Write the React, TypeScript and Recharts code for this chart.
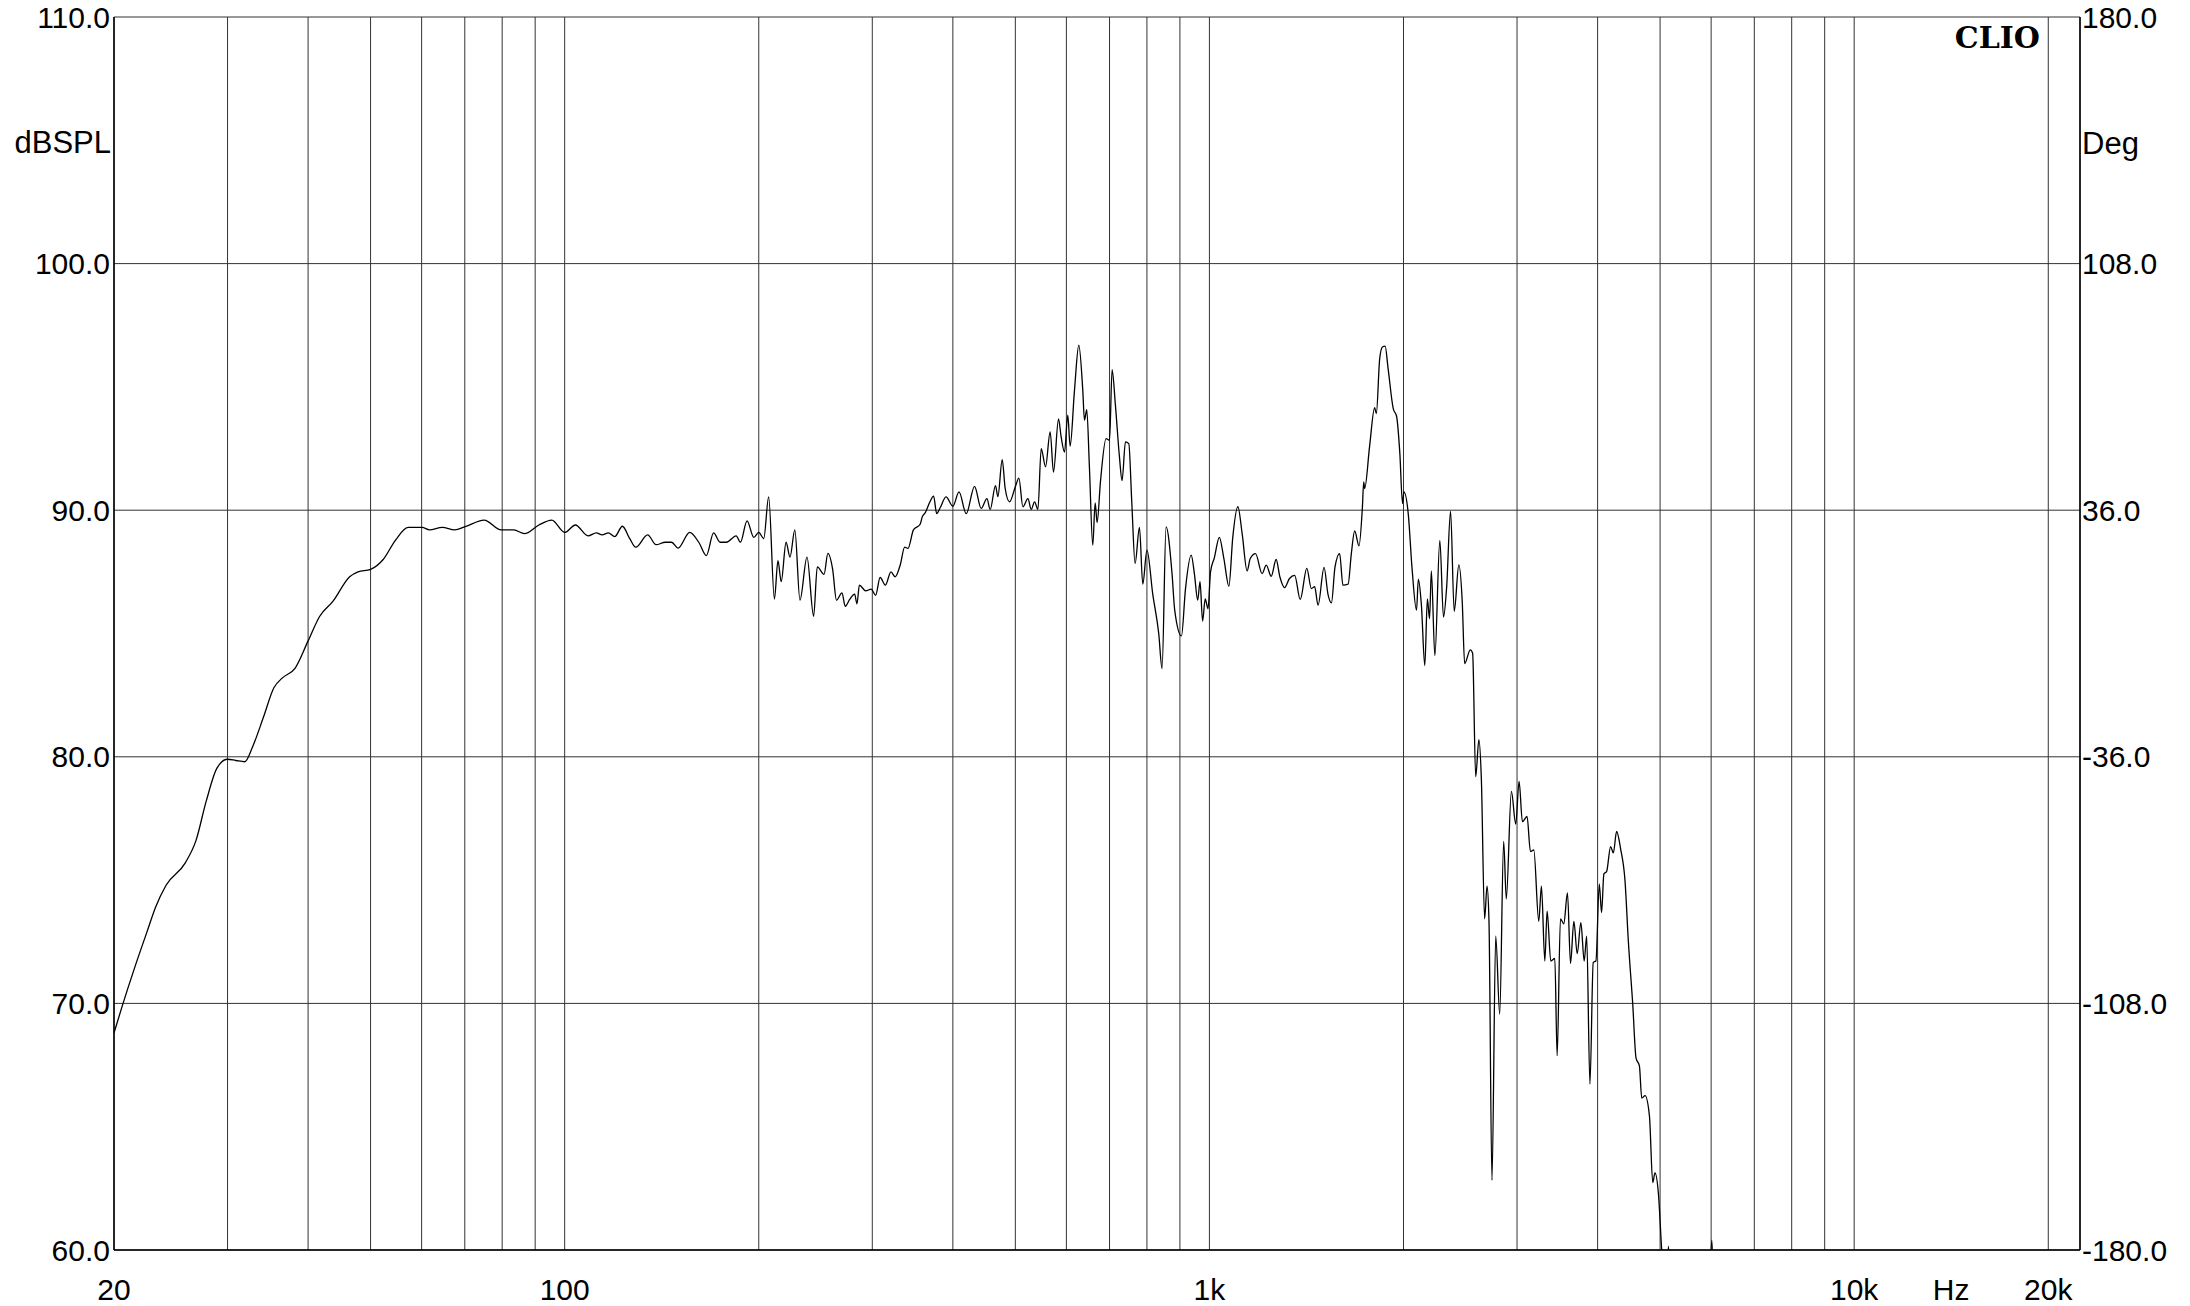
import React from "react";
import { LineChart, Line, XAxis, YAxis, CartesianGrid, Label } from "recharts";

// frequency response (Hz / dBSPL)
const FREQ_HZ = [
  20, 20.6, 21.5, 22.5, 23.2, 24.1, 25.8, 26.8, 27.8, 28.9, 30, 30.9, 31.9, 32.8, 34.1, 35.4, 36.5, 38.2,
  40, 41.7, 43.7, 46.4, 47.8, 50, 52.3, 54.7, 57.2, 60.1, 61.7, 64.6, 67.5, 70.1, 75, 79.7, 83.4, 86.6,
  91.2, 95.5, 100, 103.9, 108.7, 112, 114.3, 116.9, 119.6, 122.9, 126.1, 128.9, 134.5, 138.6, 143.2,
  146.5, 149.9, 156.3, 161.6, 165.9, 170.2, 174.2, 178.2, 184.5, 187.3, 191.8, 196.5, 200, 203.6,
  207.2, 211.5, 214.2, 216.7, 220.5, 223.6, 227.5, 231.7, 237.6, 243.3, 246.5, 252.5, 256, 260.4, 264,
  269.2, 272.4, 276.7, 281.7, 284, 286.5, 293, 298.9, 303.6, 308.5, 314.3, 320.7, 325.5, 331.4, 336.8,
  340.8, 347.5, 355.9, 358.6, 362.5, 368.6, 373.4, 377.6, 382.3, 390.4, 400, 408.9, 419.6, 432.2,
  442.6, 451.8, 457.1, 465.8, 469.8, 477.1, 482.2, 489.7, 500, 506.4, 513.7, 523, 529.2, 535.5, 542,
  548.4, 557, 566.2, 573, 583.4, 588.9, 596, 603, 608.1, 617.6, 627.2, 636.2, 640, 645.3, 651.4, 659.3,
  664.9, 669.6, 677.6, 691.4, 700, 706.4, 714.8, 725.2, 732, 740.9, 749.8, 757.8, 766.9, 778.9, 788.2,
  800, 816.8, 834.4, 844.4, 856.6, 875, 883.4, 905, 918, 937, 948, 959, 967, 976, 985, 995, 1004, 1018,
  1036, 1053, 1072, 1087, 1107, 1124, 1144, 1157, 1179, 1207, 1225, 1247, 1269, 1286, 1308, 1331, 1356,
  1383, 1416, 1439, 1456, 1474, 1506, 1527, 1546, 1566, 1592, 1611, 1641, 1660, 1680, 1706, 1727, 1735,
  1741, 1772, 1804, 1815, 1837, 1855, 1873, 1893, 1928, 1951, 1974, 1993, 2003, 2034, 2062, 2095, 2109,
  2132, 2158, 2178, 2195, 2209, 2237, 2277, 2307, 2333, 2366, 2397, 2437, 2467, 2488, 2539, 2560, 2588,
  2618, 2641, 2672, 2695, 2714, 2743, 2780, 2820, 2860, 2887, 2940, 2986, 3022, 3058, 3109, 3147, 3185,
  3242, 3273, 3313, 3340, 3384, 3433, 3462, 3503, 3545, 3592, 3631, 3675, 3719, 3768, 3813, 3847, 3892,
  3938, 3976, 4024, 4057, 4091, 4131, 4190, 4231, 4281, 4343, 4412, 4464, 4534, 4589, 4644, 4683, 4739,
  4813, 4871, 4910, 4969, 5029, 5100, 5151, 5200, 5950, 6015, 6060,
];

const SPL_DB = [
  68.8, 69.9, 71.4, 72.9, 73.9, 74.8, 75.7, 76.6, 78.2, 79.55, 79.9, 79.85, 79.8, 80.4, 81.6, 82.8, 83.2, 83.6,
  84.7, 85.7, 86.3, 87.3, 87.5, 87.6, 88.0, 88.8, 89.3, 89.3, 89.2, 89.3, 89.2, 89.33, 89.6, 89.2, 89.2, 89.05,
  89.4, 89.6, 89.1, 89.4, 88.96, 89.08, 89.0, 89.08, 88.93, 89.35, 88.86, 88.5, 89.0, 88.6, 88.7,
  88.7, 88.46, 89.1, 88.68, 88.16, 89.08, 88.7, 88.7, 88.96, 88.7, 89.57, 88.9, 89.1, 88.85,
  90.54, 86.4, 87.95, 87.1, 88.7, 88.1, 89.2, 86.35, 88.1, 85.7, 87.7, 87.4, 88.25, 87.6, 86.35,
  86.65, 86.1, 86.38, 86.6, 86.2, 86.96, 86.73, 86.8, 86.55, 87.27, 86.96, 87.5, 87.3, 87.77, 88.5,
  88.45, 89.2, 89.43, 89.73, 89.9, 90.34, 90.57, 89.86, 90.1, 90.54, 90.16, 90.74, 89.86, 90.97,
  90.07, 90.47, 90.03, 91.0, 90.55, 92.05, 90.88, 90.34, 90.95, 91.3, 90.14, 90.47, 90.03, 90.34, 90.03,
  92.5, 91.76, 93.18, 91.55, 93.7, 92.97, 92.36, 93.85, 92.6, 94.86, 96.69, 94.86, 93.65, 94.08, 91.76, 88.58,
  90.3, 89.5, 91.15, 92.9, 92.84, 95.7, 94.26, 92.16, 91.2, 92.77, 92.7, 90.34, 87.84, 89.3, 87.0,
  88.38, 86.6, 85.0, 83.58, 89.32, 87.43, 85.95, 84.9, 86.8, 88.18, 87.4, 86.35, 87.1, 85.5, 86.4, 86.0, 87.5, 88.08,
  88.9, 88.04, 86.92, 88.9, 90.14, 89.05, 87.54, 88.04, 88.24, 87.43, 87.77, 87.32, 88.0, 87.3, 86.86, 87.23, 87.36,
  86.38, 87.64, 86.82, 86.9, 86.15, 87.68, 86.6, 86.24, 87.7, 88.24, 86.96, 87.0, 88.24, 89.16, 88.55, 90.14, 91.15,
  90.88, 92.6, 94.16, 93.92, 96.15, 96.62, 96.65, 95.74, 94.12, 93.81, 92.3, 90.27, 90.74, 89.86, 87.64, 85.95, 87.2,
  86.15, 83.7, 86.4, 85.6, 87.54, 84.1, 88.78, 85.66, 86.87, 89.96, 85.9, 87.78, 86.26, 83.78, 84.34, 84.2, 79.19,
  80.7, 79.1, 73.43, 74.75, 73.33, 62.83, 72.73, 69.56, 76.57, 74.24, 78.6, 77.27, 79.0, 77.37, 77.58, 76.16, 76.22,
  73.33, 74.75, 71.72, 73.74, 71.72, 71.82, 67.88, 73.43, 73.23, 74.48, 71.62, 73.33, 72.02, 73.27, 71.72, 72.73, 66.73,
  71.66, 71.72, 74.85, 73.68, 75.25, 75.35, 76.36, 76.1, 76.97, 76.26, 74.95, 72.53, 70.0, 67.78, 67.47, 66.16, 66.26,
  65.45, 62.73, 63.13, 62.32, 60.0, 58.0, 60.15, 58.0, 58.0, 60.4, 58.0,
];

const GRID_FREQS = [
  20, 30, 40, 50, 60, 70, 80, 90, 100, 200, 300, 400, 500, 600, 700, 800, 900,
  1000, 2000, 3000, 4000, 5000, 6000, 7000, 8000, 9000, 10000, 20000,
];
const FREQ_LABELS: Record<number, string> = { 20: "20", 100: "100", 1000: "1k", 10000: "10k", 20000: "20k" };
const DB_TICKS = [60, 70, 80, 90, 100, 110];
const DB_MINOR = Array.from({ length: 51 }, (_, i) => 60 + i);
const DEG_TICKS = [-180, -108, -36, 36, 108, 180];

const data = FREQ_HZ.map((f, i) => ({ f, spl: SPL_DB[i] }));

const FONT = "'Liberation Sans', Arial, sans-serif";
const FS = 30;

function FreqTick(props: any) {
  const { x, y, payload } = props;
  const label = FREQ_LABELS[payload.value];
  if (!label) return <g />;
  return (
    <g>
      <text x={x} y={y + 39} textAnchor="middle" dominantBaseline="central" fontSize={FS} fontFamily={FONT} fill="#000">
        {label}
      </text>
      {payload.value === 10000 && (
        <text x={x + 97} y={y + 39} textAnchor="middle" dominantBaseline="central" fontSize={FS} fontFamily={FONT} fill="#000">
          Hz
        </text>
      )}
    </g>
  );
}

export default function App() {
  return (
    <div style={{ position: "absolute", left: 0, top: 0, background: "#fff", fontFamily: FONT }}>
      <LineChart width={2190} height={1306} data={data} margin={{ top: 17, right: 0, bottom: 0, left: 0 }}>
        <CartesianGrid yAxisId="db" stroke="#333" strokeWidth={1} />
        <XAxis
          dataKey="f"
          type="number"
          scale="log"
          domain={[20, 22400]}
          allowDataOverflow
          ticks={GRID_FREQS}
          interval={0}
          tick={<FreqTick />}
          tickLine={false}
          tickSize={0}
          tickMargin={0}
          height={56}
          axisLine={{ stroke: "#000", strokeWidth: 1.5 }}
        />
        <YAxis
          yAxisId="db"
          orientation="left"
          type="number"
          domain={[60, 110]}
          allowDataOverflow
          ticks={DB_TICKS}
          interval={0}
          width={114}
          tickLine={false}
          tickSize={0}
          tickMargin={4}
          tickFormatter={(v: number) => v.toFixed(1)}
          tick={{ fontSize: FS, fill: "#000", fontFamily: FONT }}
          axisLine={{ stroke: "#000", strokeWidth: 1.5 }}
        >
          <Label
            content={(p: any) => (
              <text x={p.viewBox.x + p.viewBox.width - 3} y={p.viewBox.y + 125} textAnchor="end" dominantBaseline="central" fontSize={FS + 1} fontFamily={FONT} fill="#000">
                dBSPL
              </text>
            )}
          />
        </YAxis>
        <YAxis
          yAxisId="dbMinorL"
          orientation="left"
          mirror
          type="number"
          domain={[60, 110]}
          ticks={DB_MINOR}
          interval={0}
          width={0}
          tick={false}
          tickSize={3}
          axisLine={false}
          tickLine={{ stroke: "#555" }}
        />
        <YAxis
          yAxisId="deg"
          orientation="right"
          type="number"
          domain={[-180, 180]}
          allowDataOverflow
          ticks={DEG_TICKS}
          interval={0}
          width={110}
          tickLine={false}
          tickSize={0}
          tickMargin={2}
          tickFormatter={(v: number) => v.toFixed(1)}
          tick={{ fontSize: FS, fill: "#000", fontFamily: FONT, textAnchor: "start" }}
          axisLine={{ stroke: "#000", strokeWidth: 1.5 }}
        >
          <Label
            content={(p: any) => (
              <g>
                <text x={p.viewBox.x + 2} y={p.viewBox.y + 126} textAnchor="start" dominantBaseline="central" fontSize={FS + 1} fontFamily={FONT} fill="#000">
                  Deg
                </text>
                <text x={p.viewBox.x - 40} y={p.viewBox.y + 20} textAnchor="end" dominantBaseline="central" fontSize={30} fontWeight="bold" fontFamily="'DejaVu Serif', serif" fill="#000">
                  CLIO
                </text>
              </g>
            )}
          />
        </YAxis>
        <YAxis
          yAxisId="dbMinorR"
          orientation="right"
          mirror
          type="number"
          domain={[60, 110]}
          ticks={DB_MINOR}
          interval={0}
          width={0}
          tick={false}
          tickSize={3}
          axisLine={false}
          tickLine={{ stroke: "#555" }}
        />
        <Line
          yAxisId="db"
          dataKey="spl"
          type="monotone"
          stroke="#000"
          strokeWidth={1.3}
          dot={false}
          isAnimationActive={false}
        />
      </LineChart>
    </div>
  );
}
